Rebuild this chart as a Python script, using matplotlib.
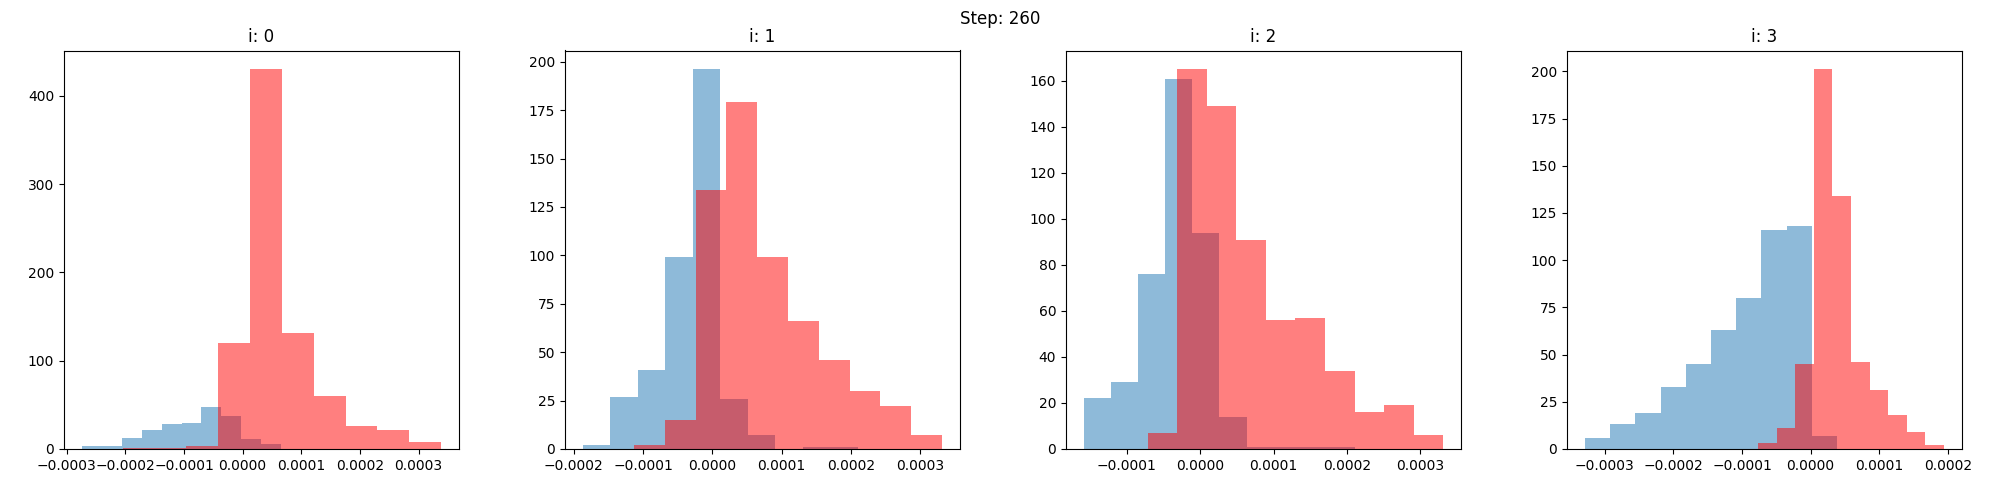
import numpy as np
import matplotlib
matplotlib.use("Agg")
import matplotlib.pyplot as plt

step = 260

# (min, max) range of each histogram, 10 equal bins
blue_range = [(-2.741e-4, 0.655e-4), (-1.868e-4, 2.099e-4),
              (-1.586e-4, 2.109e-4), (-3.290e-4, 0.384e-4)]
red_range = [(-2.046e-4, 3.385e-4), (-1.131e-4, 3.317e-4),
             (-0.714e-4, 3.309e-4), (-0.768e-4, 1.944e-4)]

# bin counts
blue_counts = [
    [3, 3, 12, 22, 28, 30, 48, 37, 11, 6],
    [2, 27, 41, 99, 196, 26, 7, 0, 1, 1],
    [22, 29, 76, 161, 94, 14, 1, 1, 1, 1],
    [6, 13, 19, 33, 45, 63, 80, 116, 118, 7],
]
red_counts = [
    [1, 1, 3, 120, 430, 131, 60, 26, 21, 8],
    [2, 15, 134, 179, 99, 66, 46, 30, 22, 7],
    [7, 165, 149, 91, 56, 57, 34, 16, 19, 6],
    [3, 11, 45, 201, 134, 46, 31, 18, 9, 2],
]

fig, axes = plt.subplots(1, 4, figsize=(20, 5), dpi=100)
fig.subplots_adjust(left=0.032, right=0.981, top=0.899, bottom=0.102, wspace=0.268)

for i, ax in enumerate(axes):
    # blue
    edges = np.linspace(blue_range[i][0], blue_range[i][1], 11)
    centers = (edges[:-1] + edges[1:]) / 2
    ax.hist(centers, bins=edges, weights=blue_counts[i], alpha=0.5)
    # red
    edges = np.linspace(red_range[i][0], red_range[i][1], 11)
    centers = (edges[:-1] + edges[1:]) / 2
    ax.hist(centers, bins=edges, weights=red_counts[i], alpha=0.5, color='r')
    ax.set_title('i: %d' % i)

fig.suptitle('Step: %d' % step)
plt.savefig('out.png')
